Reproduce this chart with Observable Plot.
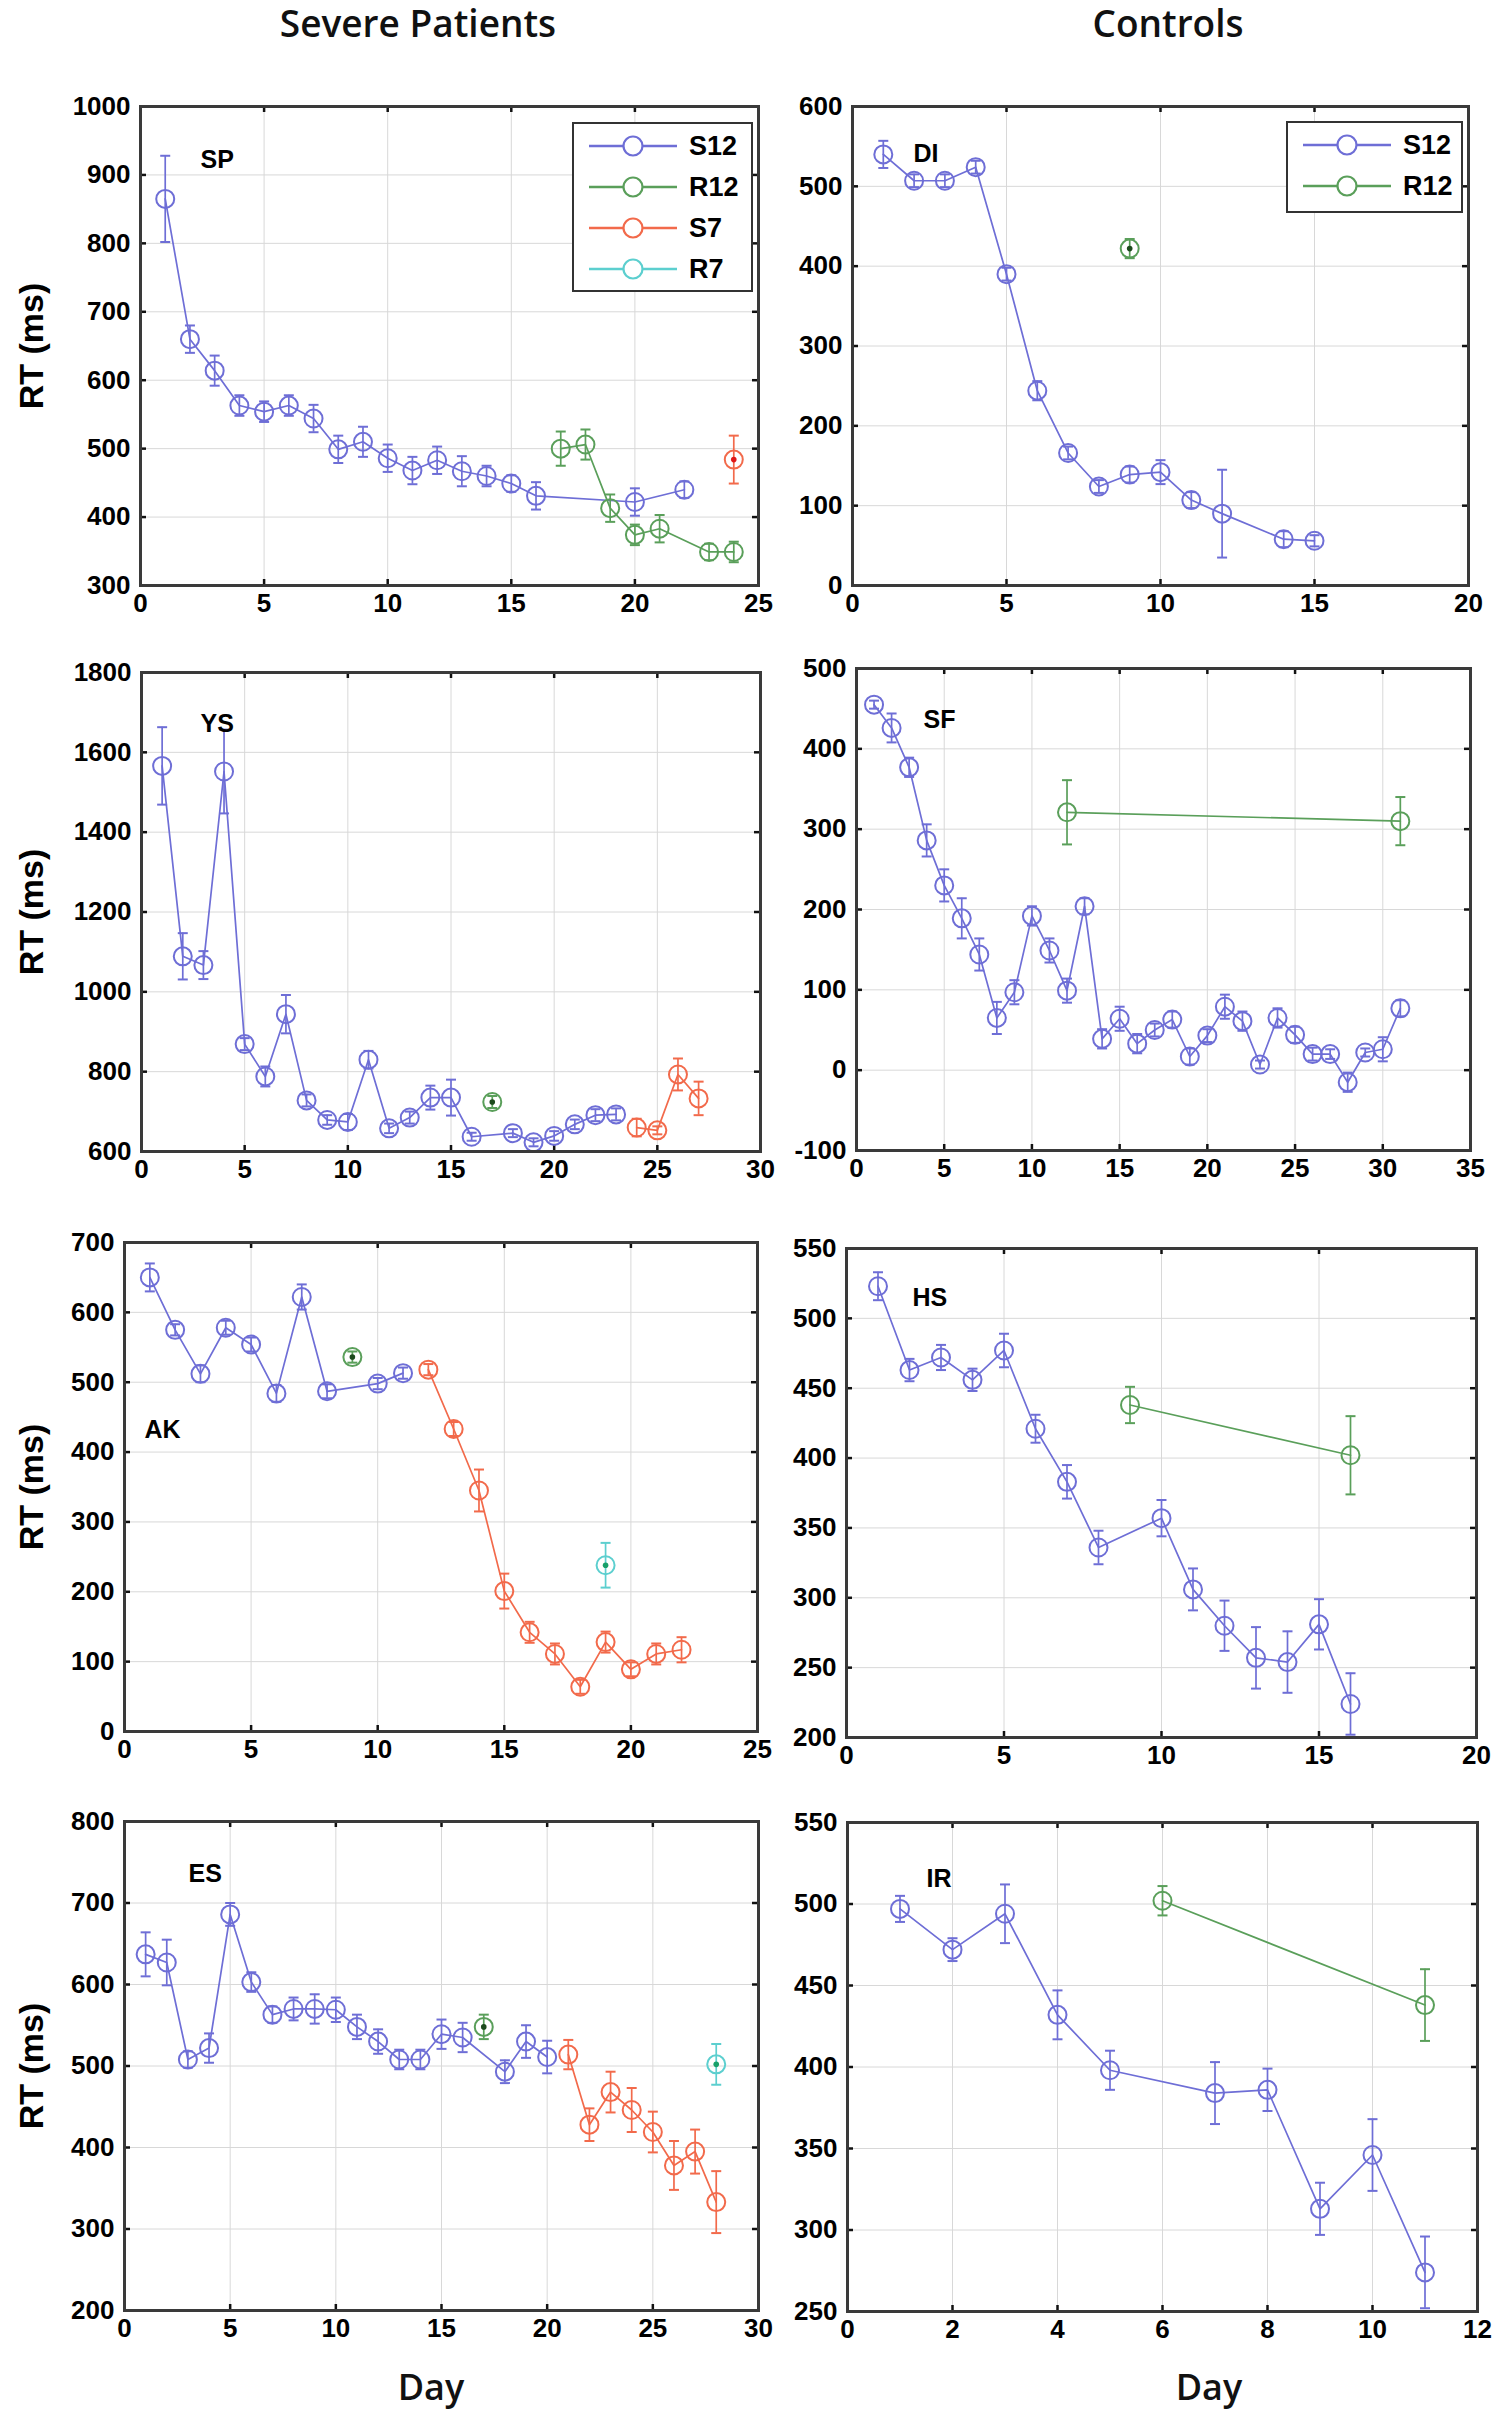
<!DOCTYPE html>
<html><head><meta charset="utf-8">
<script src="https://cdn.jsdelivr.net/npm/d3@7"></script>
<script src="https://cdn.jsdelivr.net/npm/@observablehq/plot@0.6"></script>
<style>
body{margin:0;background:#fff;width:1500px;height:2425px;position:relative;overflow:hidden;font-family:"Liberation Sans",Arial,sans-serif;color:#000}
.abs{position:absolute}
.title{font-family:"Open Sans",sans-serif;font-weight:600;font-size:37px;line-height:37px;color:#111;transform:translateX(-50%);white-space:nowrap}
.ylab{font-weight:bold;font-size:34px;line-height:34px;transform:translate(-50%,-50%) rotate(-90deg);white-space:nowrap}
.legend{border:2px solid #333;background:#fff;box-sizing:border-box}
.legend .row{position:absolute;left:0;height:40px;display:flex;align-items:center}
.legend .row span{font-weight:bold;font-size:27px}
</style></head><body>
<script>
// ---------- data: [day, mean RT (ms), error] ----------
const SP_S12 = [[1,865,63],[2,660,20],[3,614,22],[4,563,15],[5,554,15],[6,563,15],[7,544,20],[8,499,20],[9,510,22],[10,486,20],[11,468,20],[12,483,20],[13,467,22],[14,460,15],[15,449,12],[16,431,20],[20,422,20],[22,440,12]];
const SP_R12 = [[17,500,25],[18,506,22],[19,413,20],[20,374,15],[21,383,20],[23,349,12],[24,349,15]];
const SP_S7  = [[24,484,35]];

const DI_S12 = [[1,540,17],[2,507,8],[3,507,8],[4,524,8],[5,390,8],[6,244,12],[7,166,8],[8,124,8],[9,139,10],[10,142,15],[11,107,10],[12,90,55],[14,58,10],[15,56,7]];
const DI_R12 = [[9,422,12]];

const YS_S12 = [[1,1566,97],[2,1089,58],[3,1067,35],[4,1552,105],[5,869,15],[6,788,25],[7,944,48],[8,728,15],[9,679,12],[10,674,20],[11,830,22],[12,658,12],[13,685,15],[14,735,30],[15,735,45],[16,637,10],[18,646,10],[19,623,10],[20,639,12],[21,668,12],[22,691,15],[23,693,15]];
const YS_R12 = [[17,724,15]];
const YS_S7  = [[24,660,22],[25,653,10],[26,793,40],[27,733,42]];

const SF_S12 = [[1,455,5],[2,426,18],[3,377,12],[4,286,20],[5,230,20],[6,189,25],[7,144,20],[8,65,20],[9,97,15],[10,192,12],[11,149,15],[12,99,15],[13,204,10],[14,39,12],[15,64,15],[16,33,12],[17,50,8],[18,63,10],[19,17,10],[20,43,8],[21,79,15],[22,61,12],[23,7,5],[24,65,12],[25,44,10],[26,20,8],[27,20,6],[28,-15,12],[29,22,5],[30,26,15],[31,77,10]];
const SF_R12 = [[12,321,40],[31,310,30]];

const AK_S12 = [[1,650,20],[2,575,8],[3,512,12],[4,578,10],[5,554,10],[6,484,12],[7,622,18],[8,487,10],[10,498,8],[11,513,8]];
const AK_R12 = [[9,536,8]];
const AK_S7  = [[12,518,8],[13,433,10],[14,345,30],[15,201,25],[16,142,15],[17,111,15],[18,64,10],[19,128,15],[20,89,10],[21,111,15],[22,117,18]];
const AK_R7  = [[19,238,32]];

const HS_S12 = [[1,523,10],[2,463,8],[3,472,9],[4,456,8],[5,477,12],[6,421,10],[7,383,12],[8,336,12],[10,357,13],[11,306,15],[12,280,18],[13,257,22],[14,254,22],[15,281,18],[16,224,22]];
const HS_R12 = [[9,438,13],[16,402,28]];

const ES_S12 = [[1,637,27],[2,627,28],[3,508,10],[4,522,18],[5,686,14],[6,603,12],[7,563,10],[8,570,14],[9,570,18],[10,569,15],[11,548,15],[12,530,15],[13,508,12],[14,508,12],[15,539,18],[16,535,18],[18,493,14],[19,530,20],[20,511,20]];
const ES_R12 = [[17,548,15]];
const ES_S7  = [[21,514,18],[22,428,20],[23,468,25],[24,446,27],[25,419,25],[26,378,30],[27,395,27],[28,333,38]];
const ES_R7  = [[28,502,25]];

const IR_S12 = [[1,497,8],[2,472,7],[3,494,18],[4,432,15],[5,398,12],[7,384,19],[8,386,13],[9,313,16],[10,346,22],[11,274,22]];
const IR_R12 = [[6,502,9],[11,438,22]];

// ---------- tick labels ----------
const X25 = [0,5,10,15,20,25];
const X20 = [0,5,10,15,20];
const X30 = [0,5,10,15,20,25,30];
const X35 = [0,5,10,15,20,25,30,35];
const X12 = [0,2,4,6,8,10,12];
const Y_SP = [300,400,500,600,700,800,900,1000];
const Y_DI = [0,100,200,300,400,500,600];
const Y_YS = [600,800,1000,1200,1400,1600,1800];
const Y_SF = [-100,0,100,200,300,400,500];
const Y_AK = [0,100,200,300,400,500,600,700];
const Y_HS = [200,250,300,350,400,450,500,550];
const Y_ES = [200,300,400,500,600,700,800];
const Y_IR = [250,300,350,400,450,500,550];

const seriesNames = ["S12","R12","S7","R7"];
const colors = {S12:"#6e6ed6", R12:"#5a9f5a", S7:"#f26a4b", R7:"#5ccfcf"};
const centerDot = {S12:"#2a2a90", R12:"#1d4a1d", S7:"#e01818", R7:"#17a06a"};

const panels = [
  {name:"SP", frame:[140,106,758,585], xt:X25, yt:Y_SP, s:{S12:SP_S12,R12:SP_R12,S7:SP_S7}, lab:[60,53], legend:{box:[572,122,181,170], items:["S12","R12","S7","R7"]}},
  {name:"DI", frame:[852,106,1468,585], xt:X20, yt:Y_DI, s:{S12:DI_S12,R12:DI_R12}, lab:[61,47], legend:{box:[1286,121,177,92], items:["S12","R12"]}},
  {name:"YS", frame:[141,672,760,1151], xt:X30, yt:Y_YS, s:{S12:YS_S12,R12:YS_R12,S7:YS_S7}, lab:[59,51]},
  {name:"SF", frame:[856,668,1470,1150], xt:X35, yt:Y_SF, s:{S12:SF_S12,R12:SF_R12}, lab:[67,51]},
  {name:"AK", frame:[124,1242,757,1731], xt:X25, yt:Y_AK, s:{S12:AK_S12,R12:AK_R12,S7:AK_S7,R7:AK_R7}, lab:[20,187]},
  {name:"HS", frame:[846,1248,1476,1737], xt:X20, yt:Y_HS, s:{S12:HS_S12,R12:HS_R12}, lab:[66,49]},
  {name:"ES", frame:[124,1821,758,2310], xt:X30, yt:Y_ES, s:{S12:ES_S12,R12:ES_R12,S7:ES_S7,R7:ES_R7}, lab:[64,52]},
  {name:"IR", frame:[847,1822,1477,2311], xt:X12, yt:Y_IR, s:{S12:IR_S12,R12:IR_R12}, lab:[79,56]}
];

// horizontal cap symbol for error bars
const capSymbol = {draw(ctx, size){ const w = Math.sqrt(size/Math.PI); ctx.moveTo(-w,0); ctx.lineTo(w,0); }};

const mL=110, mT=20, mR=25, mB=55;

function add(el){ document.body.appendChild(el); return el; }
function div(cls, text, css){ const d=document.createElement("div"); d.className="abs "+cls; d.textContent=text; Object.assign(d.style, css); return add(d); }

panels.forEach((p,i)=>{
  const [fx0,fy0,fx1,fy1] = p.frame;
  const W = fx1-fx0+mL+mR, H = fy1-fy0+mT+mB;
  const x0 = p.xt[0], x1 = p.xt[p.xt.length-1];
  const y0 = p.yt[0], y1 = p.yt[p.yt.length-1];
  const tx = (x1-x0)*6/(fx1-fx0), ty = (y1-y0)*6/(fy1-fy0);
  const tickStyle = {stroke:"#111", strokeWidth:2.5};
  const marks = [
    Plot.gridX({ticks:p.xt, stroke:"#d8d8d8", strokeOpacity:1, strokeWidth:1}),
    Plot.gridY({ticks:p.yt, stroke:"#d8d8d8", strokeOpacity:1, strokeWidth:1}),
    Plot.ruleY(p.yt.slice(1,-1), {y:d=>d, x1:x0, x2:x0+tx, ...tickStyle}),
    Plot.ruleY(p.yt.slice(1,-1), {y:d=>d, x1:x1-tx, x2:x1, ...tickStyle}),
    Plot.ruleX(p.xt.slice(1,-1), {x:d=>d, y1:y0, y2:y0+ty, ...tickStyle}),
    Plot.ruleX(p.xt.slice(1,-1), {x:d=>d, y1:y1-ty, y2:y1, ...tickStyle}),
    Plot.axisX({ticks:p.xt, tickSize:0, tickPadding:8, tickFormat:d=>String(d)}),
    Plot.axisY({ticks:p.yt, tickSize:0, tickPadding:10, tickFormat:d=>String(d)})
  ];
  for (const k of seriesNames){
    const data = p.s[k]; if(!data) continue;
    const c = colors[k];
    marks.push(
      Plot.line(data, {x:d=>d[0], y:d=>d[1], stroke:c, strokeWidth:1.7}),
      Plot.ruleX(data, {x:d=>d[0], y1:d=>d[1]-d[2], y2:d=>d[1]+d[2], stroke:c, strokeWidth:1.7}),
      Plot.dot(data, {x:d=>d[0], y:d=>d[1]+d[2], symbol:capSymbol, r:5, stroke:c, strokeWidth:2}),
      Plot.dot(data, {x:d=>d[0], y:d=>d[1]-d[2], symbol:capSymbol, r:5, stroke:c, strokeWidth:2}),
      Plot.dot(data, {x:d=>d[0], y:d=>d[1], r:9, stroke:c, fill:"none", strokeWidth:2})
    );
    if (data.length===1) marks.push(Plot.dot(data, {x:d=>d[0], y:d=>d[1], r:2.8, fill:centerDot[k]}));
  }
  marks.push(
    Plot.frame({stroke:"#3a3a3a", strokeWidth:3}),
    Plot.text([p.name], {text:d=>d, frameAnchor:"top-left", dx:p.lab[0], dy:p.lab[1], textAnchor:"start", lineAnchor:"middle", fontSize:25, fontWeight:"bold"})
  );
  const svg = Plot.plot({
    width:W, height:H, marginLeft:mL, marginRight:mR, marginTop:mT, marginBottom:mB,
    x:{domain:[x0,x1]}, y:{domain:[y0,y1]},
    style:{background:"transparent", overflow:"visible", fontFamily:"'Liberation Sans', Arial, sans-serif", fontSize:"26px", fontWeight:"bold", color:"#000"},
    marks
  });
  svg.classList.add("abs");
  svg.style.left = (fx0-mL)+"px"; svg.style.top = (fy0-mT)+"px";
  add(svg);

  // legend
  if (p.legend){
    const [lx,ly,lw,lh] = p.legend.box;
    const L = div("legend","",{left:lx+"px", top:ly+"px", width:lw+"px", height:lh+"px"});
    p.legend.items.forEach((k,j)=>{
      const r = document.createElement("div"); r.className="row";
      r.style.top = (2+j*41)+"px";
      r.innerHTML = `<svg width="100" height="30" style="margin-left:15px"><line x1="0" y1="15" x2="88" y2="15" stroke="${colors[k]}" stroke-width="2.4"/><circle cx="44" cy="15" r="9.5" fill="#fff" stroke="${colors[k]}" stroke-width="2.2"/></svg>`;
      const t = document.createElement("span"); t.textContent = k;
      r.appendChild(t); L.appendChild(r);
    });
  }
  // y label on left column
  if (i%2===0) div("ylab","RT (ms)",{left:"31px", top:((fy0+fy1)/2)+"px"});
});

div("title","Severe Patients",{left:"418px", top:"4px"});
div("title","Controls",{left:"1168px", top:"4px"});
div("title","Day",{left:"431px", top:"2368px", fontSize:"36px"});
div("title","Day",{left:"1209px", top:"2368px", fontSize:"36px"});
</script>
</body></html>
